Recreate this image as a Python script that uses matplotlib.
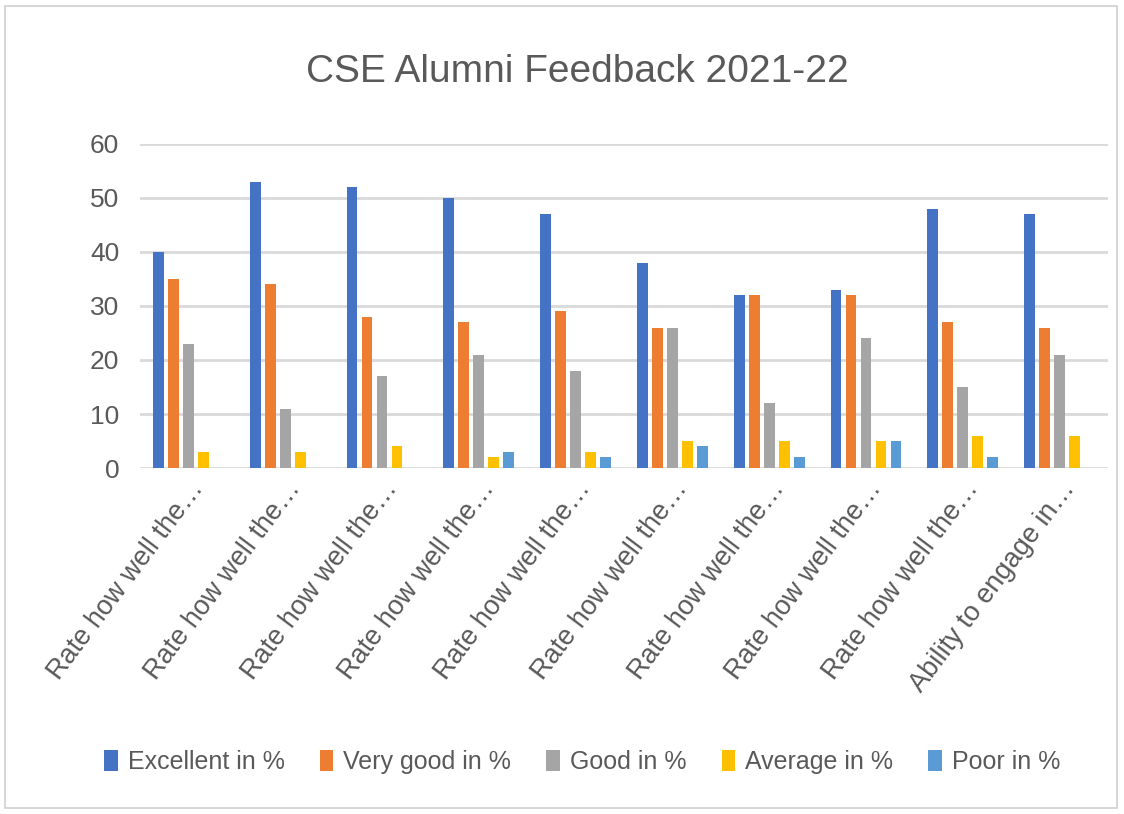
import numpy as np
import matplotlib.pyplot as plt
from matplotlib.patches import Rectangle

plt.rcParams['font.family'] = ['Liberation Sans Narrow', 'Liberation Sans', 'DejaVu Sans']

categories = ['Rate how well the…'] * 9 + ['Ability to engage in…']
series = ['Excellent in %', 'Very good in %', 'Good in %', 'Average in %', 'Poor in %']
excellent = [40, 53, 52, 50, 47, 38, 32, 33, 48, 47]
very_good = [35, 34, 28, 27, 29, 26, 32, 32, 27, 26]
good = [23, 11, 17, 21, 18, 26, 12, 24, 15, 21]
average = [3, 3, 4, 2, 3, 5, 5, 5, 6, 6]
poor = [0, 0, 0, 3, 2, 4, 2, 5, 2, 0]
colors = ['#4472C4', '#ED7D31', '#A5A5A5', '#FFC000', '#5B9BD5']

fig = plt.figure(figsize=(11.24, 8.14), dpi=100)
ax = fig.add_axes([140 / 1124, 1 - 468 / 814, (1108 - 140) / 1124, (468 - 144) / 814])

x = np.arange(len(categories))
slot = 0.155
width = 0.11
for i, (vals, name, c) in enumerate(zip([excellent, very_good, good, average, poor], series, colors)):
    ax.bar(x + (i - 2) * slot, vals, width, color=c, label=name, zorder=3)

ax.set_xlim(-0.5, len(categories) - 0.5)
ax.set_ylim(0, 60)
ax.set_yticks(range(0, 61, 10))
ax.grid(axis='y', color='#d9d9d9', linewidth=2, zorder=0)
for s in ax.spines.values():
    s.set_visible(False)
ax.tick_params(axis='both', length=0, colors='#595959')
ax.tick_params(axis='y', pad=15, labelsize=19)
ax.tick_params(axis='x', pad=6)
ax.set_xticks(x)
ax.set_xticklabels(categories, rotation=53, ha='right', va='top', rotation_mode='anchor', fontsize=19.5)
for lab in ax.get_xticklabels():
    lab.set_color('#595959')

fig.text(577 / 1124, 1 - 72 / 814, 'CSE Alumni Feedback 2021-22', ha='center', va='center',
         fontsize=28, color='#595959')

fig.legend(loc='center', bbox_to_anchor=(0.518, 1 - 762 / 814), ncol=5, frameon=False,
           fontsize=18, handlelength=0.55, handleheight=0.95, handletextpad=0.4,
           columnspacing=1.4, labelcolor='#595959')

fig.patches.append(Rectangle((5 / 1124, 6 / 814), 1112 / 1124, 802 / 814, transform=fig.transFigure,
                             fill=False, edgecolor='#d0d0d0', linewidth=1.2))

fig.savefig('out.png', dpi=100)
